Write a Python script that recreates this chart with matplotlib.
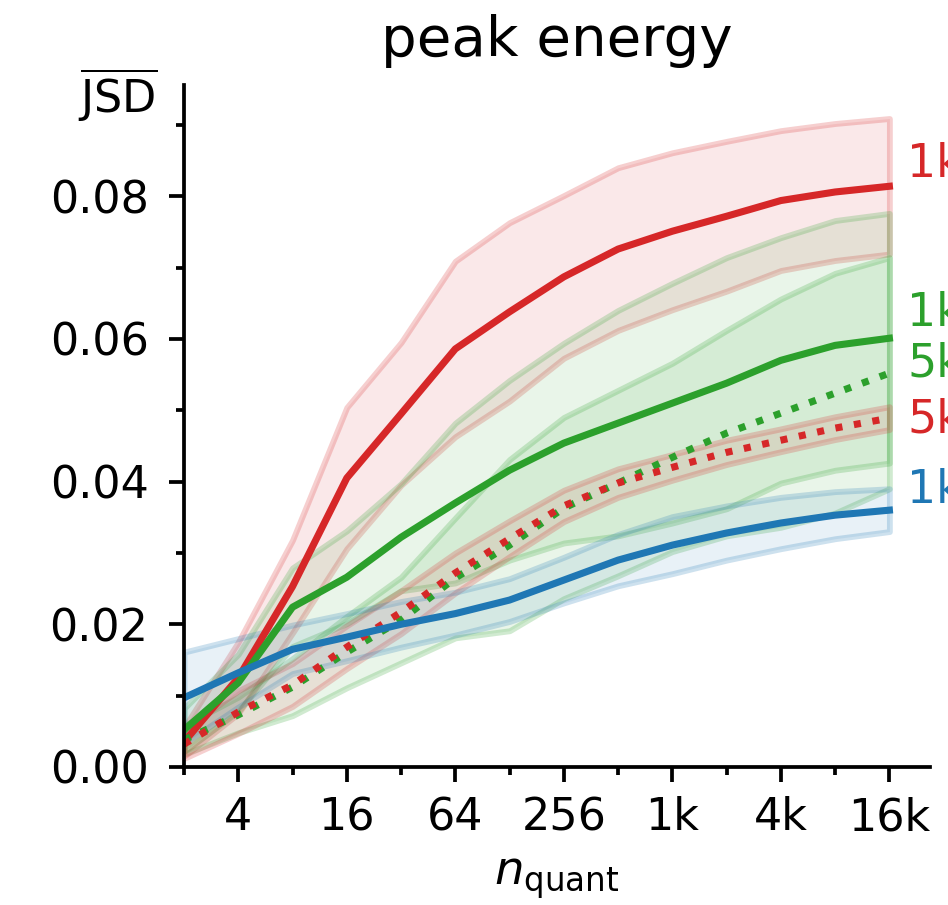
import numpy as np
import matplotlib
matplotlib.use('Agg')
import matplotlib.pyplot as plt
from matplotlib.colors import to_rgba
from matplotlib.ticker import FixedLocator, FixedFormatter, MultipleLocator

# quantisation levels (powers of two)
n_quant = 2 ** np.arange(1, 15)

red1k_mean = [0.0035, 0.0125, 0.0253, 0.0405, 0.0495, 0.0586, 0.0638, 0.0687, 0.0726, 0.0751, 0.0772, 0.0794, 0.0806, 0.0814]
red1k_std = [0.002, 0.005, 0.0065, 0.0099, 0.0100, 0.0123, 0.0125, 0.0114, 0.0114, 0.011, 0.0105, 0.0098, 0.0096, 0.0095]

green1k_mean = [0.0052, 0.0118, 0.0224, 0.0266, 0.0322, 0.037, 0.0416, 0.0454, 0.0482, 0.051, 0.0538, 0.057, 0.0591, 0.0601]
green1k_std = [0.003, 0.004, 0.0055, 0.0065, 0.0075, 0.0112, 0.0126, 0.014, 0.0158, 0.0168, 0.0176, 0.0172, 0.0175, 0.0175]

green5k_mean = [0.0038, 0.0073, 0.0112, 0.0161, 0.0206, 0.0265, 0.0311, 0.0363, 0.0398, 0.0434, 0.0468, 0.0496, 0.0524, 0.0552]
green5k_std = [0.002, 0.0025, 0.004, 0.005, 0.006, 0.0084, 0.012, 0.0127, 0.013, 0.0132, 0.0144, 0.016, 0.0168, 0.0162]

red5k_mean = [0.0032, 0.0077, 0.0115, 0.0168, 0.0217, 0.0272, 0.032, 0.0366, 0.0398, 0.042, 0.0441, 0.0458, 0.0475, 0.0489]
red5k_std = [0.002, 0.003, 0.003, 0.003, 0.003, 0.0028, 0.0025, 0.0022, 0.002, 0.0018, 0.0017, 0.0016, 0.0016, 0.0016]

blue1k_mean = [0.0097, 0.0132, 0.0165, 0.0182, 0.0200, 0.0215, 0.0234, 0.0262, 0.029, 0.0311, 0.0328, 0.0342, 0.0353, 0.036]
blue1k_std = [0.0064, 0.0048, 0.0034, 0.0033, 0.0032, 0.003, 0.003, 0.0032, 0.0036, 0.004, 0.0038, 0.0036, 0.0033, 0.003]

# end-of-line labels and their heights
end_labels = ['1k', '1k', '5k', '5k', '1k']
end_label_y = [0.0845, 0.0635, 0.0565, 0.0487, 0.0387]

xtick_pos = [4, 16, 64, 256, 1024, 4096, 16384]
xtick_labels = ['4', '16', '64', '256', '1k', '4k', '16k']
xminor_pos = [2, 8, 32, 128, 512, 2048, 8192]

series = [
    (red1k_mean, red1k_std, 'tab:red', '-'),
    (green1k_mean, green1k_std, 'tab:green', '-'),
    (green5k_mean, green5k_std, 'tab:green', ':'),
    (red5k_mean, red5k_std, 'tab:red', ':'),
    (blue1k_mean, blue1k_std, 'tab:blue', '-'),
]
label_colors = ['tab:red', 'tab:green', 'tab:green', 'tab:red', 'tab:blue']

fig = plt.figure(figsize=(3.16, 3.0167), dpi=300)
ax = fig.add_axes([0.1941, 0.1525, 0.787, 0.7536])

for mean, std, col, ls in series:
    mean = np.array(mean)
    std = np.array(std)
    ax.fill_between(n_quant, mean - std, mean + std,
                    facecolor=to_rgba(col, 0.1), edgecolor=to_rgba(col, 0.22), lw=1.4)
for mean, std, col, ls in series:
    ax.plot(n_quant, mean, color=col, ls=ls, lw=1.7)

for txt, yy, col in zip(end_labels, end_label_y, label_colors):
    ax.text(2 ** 14.33, yy, txt, color=col, fontsize=11, va='center', ha='left', clip_on=False)

ax.set_xscale('log', base=2)
ax.set_xlim(2, 2 ** 14.75)
ax.set_ylim(0, 0.0956)
ax.xaxis.set_major_locator(FixedLocator(xtick_pos))
ax.xaxis.set_major_formatter(FixedFormatter(xtick_labels))
ax.xaxis.set_minor_locator(FixedLocator(xminor_pos))
ax.xaxis.set_minor_formatter(FixedFormatter([''] * len(xminor_pos)))
ax.yaxis.set_major_locator(MultipleLocator(0.02))
ax.yaxis.set_minor_locator(MultipleLocator(0.01))
ax.yaxis.set_major_formatter(plt.FuncFormatter(lambda v, p: '%.2f' % v))
ax.tick_params(labelsize=10.7, width=0.9)
ax.tick_params(axis='y', pad=5)
ax.tick_params(which='minor', width=0.9)
for s in ['top', 'right']:
    ax.spines[s].set_visible(False)
for s in ['left', 'bottom']:
    ax.spines[s].set_linewidth(0.9)

ax.set_title('peak energy', fontsize=13.5, pad=7)
ax.set_xlabel(r'$n_\mathrm{quant}$', fontsize=11.2, labelpad=4)
fig.text(158 / 948, 1 - 95 / 905, r'$\overline{\mathrm{JSD}}$', fontsize=10.7, ha='right', va='center')

plt.savefig('out.png', dpi=300)
plt.close()
